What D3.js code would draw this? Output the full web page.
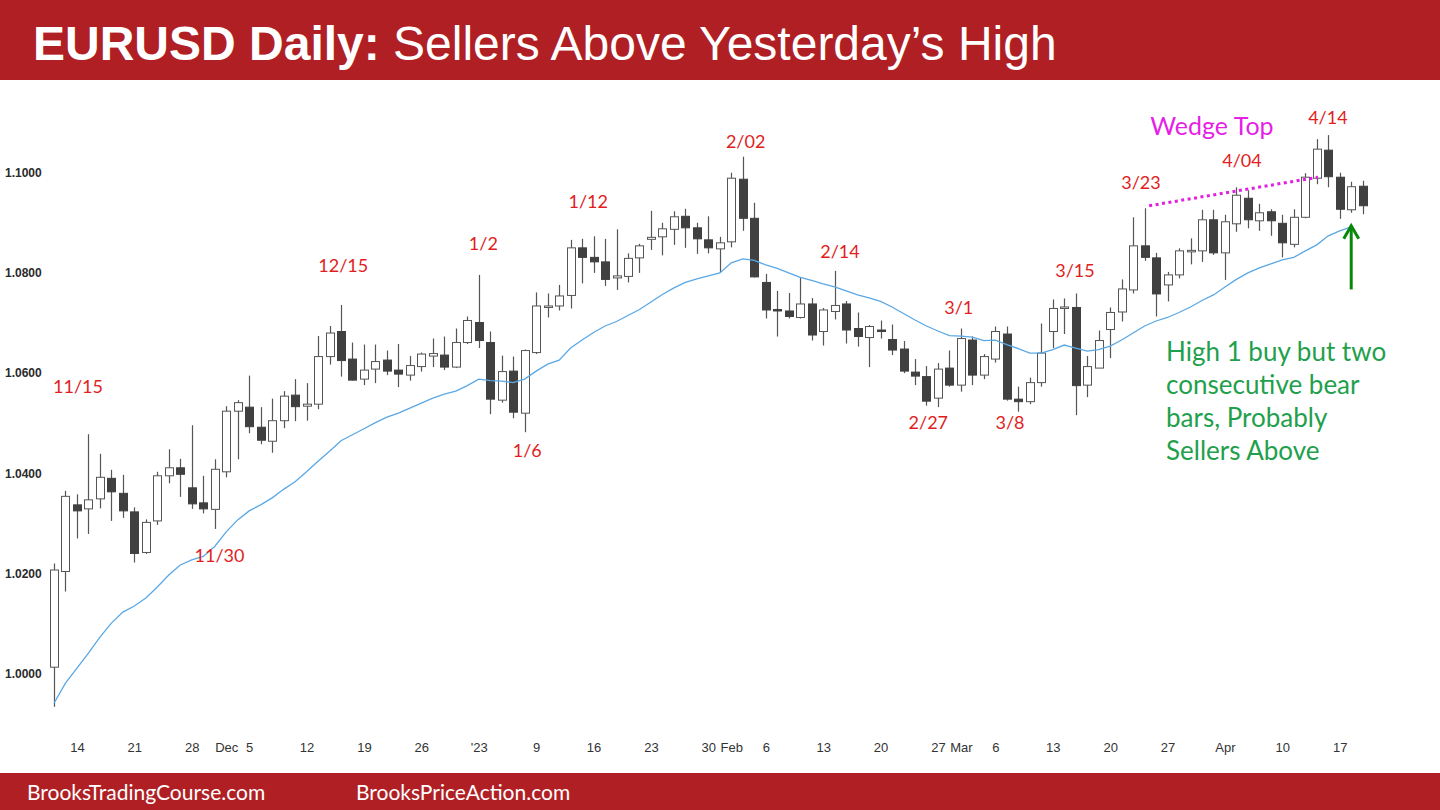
<!DOCTYPE html>
<html><head><meta charset="utf-8">
<script src="https://cdn.jsdelivr.net/npm/d3@7/dist/d3.min.js"></script>
<style>
html,body{margin:0;padding:0;background:#fff;}
svg{display:block;}
</style></head><body>
<svg id="c" width="1440" height="810"></svg>
<script>
// ---------------- DATA ----------------
const dates = [
"2022-11-10","2022-11-11","2022-11-14","2022-11-15","2022-11-16","2022-11-17","2022-11-18","2022-11-21","2022-11-22","2022-11-23","2022-11-24","2022-11-25","2022-11-28","2022-11-29","2022-11-30",
"2022-12-01","2022-12-02","2022-12-05","2022-12-06","2022-12-07","2022-12-08","2022-12-09","2022-12-12","2022-12-13","2022-12-14","2022-12-15","2022-12-16","2022-12-19","2022-12-20","2022-12-21","2022-12-22","2022-12-23","2022-12-26","2022-12-27","2022-12-28","2022-12-29","2022-12-30",
"2023-01-02","2023-01-03","2023-01-04","2023-01-05","2023-01-06","2023-01-09","2023-01-10","2023-01-11","2023-01-12","2023-01-13","2023-01-16","2023-01-17","2023-01-18","2023-01-19","2023-01-20","2023-01-23","2023-01-24","2023-01-25","2023-01-26","2023-01-27","2023-01-30","2023-01-31",
"2023-02-01","2023-02-02","2023-02-03","2023-02-06","2023-02-07","2023-02-08","2023-02-09","2023-02-10","2023-02-13","2023-02-14","2023-02-15","2023-02-16","2023-02-17","2023-02-20","2023-02-21","2023-02-22","2023-02-23","2023-02-24","2023-02-27","2023-02-28",
"2023-03-01","2023-03-02","2023-03-03","2023-03-06","2023-03-07","2023-03-08","2023-03-09","2023-03-10","2023-03-13","2023-03-14","2023-03-15","2023-03-16","2023-03-17","2023-03-20","2023-03-21","2023-03-22","2023-03-23","2023-03-24","2023-03-27","2023-03-28","2023-03-29","2023-03-30","2023-03-31",
"2023-04-03","2023-04-04","2023-04-05","2023-04-06","2023-04-07","2023-04-10","2023-04-11","2023-04-12","2023-04-13","2023-04-14","2023-04-17","2023-04-18","2023-04-19"];

const opens = [1.0013,1.0204,1.0337,1.0329,1.0349,1.0390,1.0360,1.0323,1.0242,1.0305,1.0395,1.0411,1.0371,1.0341,1.0328,
1.0403,1.0524,1.0532,1.0492,1.0464,1.0505,1.0556,1.0534,1.0538,1.0633,1.0683,1.0628,1.0588,1.0608,1.0626,1.0606,1.0596,1.0613,1.0634,1.0636,1.0612,1.0661,
1.0701,1.0661,1.0546,1.0604,1.0520,1.0641,1.0733,1.0734,1.0755,1.0850,1.0831,1.0822,1.0790,1.0793,1.0830,1.0867,1.0872,1.0887,1.0913,1.0890,1.0866,1.0848,
1.0862,1.0987,1.0909,1.0781,1.0727,1.0724,1.0711,1.0738,1.0683,1.0723,1.0738,1.0689,1.0671,1.0686,1.0667,1.0648,1.0602,1.0593,1.0550,1.0610,
1.0576,1.0666,1.0596,1.0628,1.0678,1.0548,1.0543,1.0581,1.0683,1.0731,1.0731,1.0576,1.0610,1.0687,1.0722,1.0766,1.0854,1.0830,1.0776,1.0796,1.0843,1.0844,1.0906,
1.0840,1.0898,1.0949,1.0904,1.0922,1.0899,1.0857,1.0911,1.0989,1.1045,1.0991,1.0926,1.0973];

const highs = [1.0220,1.0365,1.0358,1.0478,1.0439,1.0407,1.0397,1.0332,1.0308,1.0403,1.0448,1.0429,1.0496,1.0395,1.0428,
1.0534,1.0546,1.0595,1.0532,1.0549,1.0564,1.0588,1.0580,1.0674,1.0694,1.0736,1.0661,1.0657,1.0657,1.0645,1.0658,1.0634,1.0641,1.0669,1.0673,1.0689,1.0713,
1.0796,1.0683,1.0635,1.0633,1.0647,1.0761,1.0759,1.0776,1.0866,1.0868,1.0873,1.0868,1.0887,1.0839,1.0858,1.0924,1.0900,1.0923,1.0928,1.0900,1.0913,1.0872,
1.1000,1.1032,1.0940,1.0798,1.0764,1.0760,1.0792,1.0750,1.0730,1.0804,1.0744,1.0721,1.0696,1.0705,1.0697,1.0664,1.0628,1.0614,1.0620,1.0645,
1.0689,1.0673,1.0638,1.0693,1.0693,1.0573,1.0591,1.0699,1.0747,1.0749,1.0759,1.0634,1.0685,1.0731,1.0787,1.0911,1.0929,1.0840,1.0802,1.0849,1.0869,1.0926,1.0926,
1.0916,1.0971,1.0965,1.0938,1.0927,1.0916,1.0927,1.0999,1.1067,1.1075,1.1000,1.0982,1.0984];

const lows = [0.9934,1.0164,1.0270,1.0279,1.0330,1.0305,1.0311,1.0222,1.0239,1.0297,1.0380,1.0353,1.0329,1.0320,1.0289,
1.0392,1.0428,1.0480,1.0458,1.0441,1.0490,1.0504,1.0505,1.0528,1.0617,1.0593,1.0585,1.0576,1.0580,1.0596,1.0572,1.0585,1.0603,1.0612,1.0606,1.0610,1.0658,
1.0650,1.0518,1.0541,1.0510,1.0482,1.0638,1.0711,1.0725,1.0729,1.0779,1.0800,1.0774,1.0766,1.0781,1.0800,1.0846,1.0835,1.0856,1.0850,1.0838,1.0839,1.0801,
1.0851,1.0884,1.0791,1.0709,1.0673,1.0709,1.0709,1.0665,1.0655,1.0707,1.0659,1.0653,1.0612,1.0669,1.0636,1.0600,1.0576,1.0535,1.0532,1.0573,
1.0563,1.0576,1.0588,1.0621,1.0545,1.0523,1.0538,1.0573,1.0650,1.0678,1.0516,1.0552,1.0610,1.0630,1.0703,1.0759,1.0824,1.0713,1.0743,1.0789,1.0817,1.0822,1.0836,
1.0786,1.0882,1.0889,1.0884,1.0874,1.0831,1.0851,1.0909,1.0977,1.0971,1.0908,1.0920,1.0917];

const closes = [1.0207,1.0354,1.0325,1.0347,1.0392,1.0363,1.0325,1.0240,1.0302,1.0395,1.0411,1.0398,1.0339,1.0329,1.0408,
1.0524,1.0541,1.0493,1.0466,1.0505,1.0554,1.0533,1.0538,1.0633,1.0680,1.0625,1.0586,1.0606,1.0623,1.0604,1.0598,1.0615,1.0638,1.0639,1.0612,1.0661,1.0705,
1.0665,1.0548,1.0603,1.0522,1.0645,1.0734,1.0734,1.0754,1.0850,1.0831,1.0822,1.0787,1.0794,1.0829,1.0854,1.0871,1.0888,1.0912,1.0890,1.0868,1.0850,1.0860,
1.0989,1.0909,1.0792,1.0726,1.0725,1.0713,1.0738,1.0676,1.0726,1.0735,1.0686,1.0673,1.0693,1.0684,1.0646,1.0604,1.0594,1.0544,1.0608,1.0576,
1.0669,1.0596,1.0633,1.0683,1.0548,1.0543,1.0581,1.0640,1.0729,1.0732,1.0575,1.0613,1.0665,1.0721,1.0768,1.0854,1.0831,1.0758,1.0796,1.0844,1.0845,1.0906,1.0840,
1.0902,1.0955,1.0906,1.0920,1.0904,1.0860,1.0911,1.0991,1.1047,1.0992,1.0927,1.0972,1.0934];

// 20-period EMA as drawn (one value per bar)
const ema20 = [0.9941,0.9981,1.0011,1.0041,1.0073,1.0101,1.0123,1.0135,1.0151,1.0173,1.0197,1.0217,1.0227,1.0234,1.0254,
1.0283,1.0307,1.0325,1.0337,1.0351,1.0368,1.0383,1.0403,1.0424,1.0444,1.0465,1.0477,1.0489,1.0501,1.0512,1.0520,1.0530,1.0540,1.0550,1.0558,1.0564,1.0575,
1.0588,1.0585,1.0584,1.0581,1.0588,1.0604,1.0618,1.0626,1.0650,1.0666,1.0681,1.0694,1.0703,1.0715,1.0727,1.0742,1.0757,1.0770,1.0781,1.0788,1.0794,1.0800,
1.0820,1.0828,1.0825,1.0816,1.0809,1.0800,1.0791,1.0785,1.0778,1.0772,1.0764,1.0756,1.0750,1.0743,1.0732,1.0719,1.0706,1.0694,1.0684,1.0675,
1.0674,1.0672,1.0665,1.0666,1.0657,1.0649,1.0640,1.0640,1.0647,1.0656,1.0650,1.0644,1.0647,1.0654,1.0666,1.0680,1.0694,1.0704,1.0711,1.0721,1.0732,1.0745,1.0756,
1.0772,1.0787,1.0800,1.0810,1.0818,1.0826,1.0831,1.0844,1.0856,1.0874,1.0884,1.0892];

const yTicks = [1.0000,1.0200,1.0400,1.0600,1.0800,1.1000];

const xTickDates = ["2022-11-14","2022-11-21","2022-11-28","2022-12-01","2022-12-05","2022-12-12","2022-12-19","2022-12-26","2023-01-02","2023-01-09","2023-01-16","2023-01-23","2023-01-30","2023-02-01","2023-02-06","2023-02-13","2023-02-20","2023-02-27","2023-03-01","2023-03-06","2023-03-13","2023-03-20","2023-03-27","2023-04-03","2023-04-10","2023-04-17"];
const xTickLabels = ["14","21","28","Dec","5","12","19","26","'23","9","16","23","30","Feb","6","13","20","27","Mar","6","13","20","27","Apr","10","17"];

// swing labels: text, anchor bar position (bar index units), baseline price
const swingText  = ["11/15","11/30","12/15","1/2","1/6","1/12","2/02","2/14","2/27","3/1","3/8","3/15","3/23","4/04","4/14"];
const swingPos   = [2.09,14.42,25.2,37.4,41.23,46.54,60.25,68.47,76.16,78.81,83.28,88.94,94.69,103.48,110.97];
const swingPrice = [1.0560,1.0222,1.0802,1.0846,1.0432,1.0929,1.1049,1.0830,1.0488,1.0717,1.0488,1.0791,1.0967,1.1011,1.1097];

const wedgeLinePos = [95.4,110.1];
const wedgeLinePrice = [1.0934,1.0991];
const wedgeLabel = {text:"Wedge Top", pos:100.87, price:1.1075};

const noteLines = ["High 1 buy but two","consecutive bear","bars, Probably","Sellers Above"];
const notePos = 96.87;
const notePrices = [1.0625,1.0558,1.0492,1.0426];

const arrowPos = 113;
const arrowPrices = [1.0767,1.0896];

// ---------------- DRAW ----------------
const W = 1440, H = 810;
const svg = d3.select("#c");
svg.append("rect").attr("width", W).attr("height", H).attr("fill", "#fff");

const x = d3.scaleLinear().domain([0, dates.length - 1]).range([54, 1362.7]);
const y = d3.scaleLinear().domain([1.0, 1.1]).range([673.7, 172.7]);
const idx = d => dates.indexOf(d);

// header
svg.append("rect").attr("x", 0).attr("y", 0).attr("width", W).attr("height", 80).attr("fill", "#b01f24");
const title = svg.append("text").attr("x", 33).attr("y", 60).attr("fill", "#fff")
  .style("font-family", "'Liberation Sans', Arial, sans-serif").style("font-size", "48px");
title.append("tspan").attr("font-weight", "bold").text("EURUSD Daily:");
title.append("tspan").text(" Sellers Above Yesterday\u2019s High");

// footer
svg.append("rect").attr("x", 0).attr("y", 773).attr("width", W).attr("height", 37).attr("fill", "#b01f24");
const foot = svg.append("g").style("font-family", "Lato, 'Open Sans', sans-serif").style("font-size", "21px").attr("fill", "#fff");
foot.append("text").attr("x", 27).attr("y", 800).text("BrooksTradingCourse.com");
foot.append("text").attr("x", 356).attr("y", 800).text("BrooksPriceAction.com");

// y axis
const yAxis = d3.axisRight(y).tickValues(yTicks).tickSize(0).tickPadding(0).tickFormat(d3.format(".4f"));
const gy = svg.append("g").attr("transform", "translate(5,0)").call(yAxis);
gy.select(".domain").remove();
gy.selectAll("text").attr("fill", "#2a2a2a").style("font-family", "'Liberation Sans', Arial, sans-serif")
  .style("font-size", "12px").style("font-weight", "bold");

// x axis
const xAxis = d3.axisBottom(x).tickValues(xTickDates.map(idx)).tickSize(0).tickPadding(0)
  .tickFormat((d, i) => xTickLabels[i]);
const gx = svg.append("g").attr("transform", "translate(0,743)").call(xAxis);
gx.select(".domain").remove();
gx.selectAll("text").attr("fill", "#333").style("font-family", "'Liberation Sans', Arial, sans-serif").style("font-size", "13px");

// candles
const bars = dates.map((d, i) => ({i, o: opens[i], h: highs[i], l: lows[i], c: closes[i]}));
const cg = svg.append("g");
const bw = 8;
cg.selectAll("line.wick").data(bars).join("line").attr("class", "wick")
  .attr("x1", d => Math.round(x(d.i)) + 0.5).attr("x2", d => Math.round(x(d.i)) + 0.5)
  .attr("y1", d => y(d.h)).attr("y2", d => y(d.l))
  .attr("stroke", "#555").attr("stroke-width", 1.2);
cg.selectAll("rect.body").data(bars).join("rect").attr("class", "body")
  .attr("x", d => Math.round(x(d.i)) + 0.5 - bw / 2)
  .attr("y", d => y(Math.max(d.o, d.c)))
  .attr("width", bw)
  .attr("height", d => Math.max(1.5, Math.abs(y(d.o) - y(d.c))))
  .attr("fill", d => d.c >= d.o ? "#fff" : "#404040")
  .attr("stroke", d => d.c >= d.o ? "#555" : "#404040")
  .attr("stroke-width", 1);

// EMA line
svg.append("path").datum(ema20)
  .attr("d", d3.line().x((v, i) => x(i)).y(v => y(v)))
  .attr("fill", "none").attr("stroke", "#5aa8e6").attr("stroke-width", 1.3);

// swing labels
svg.append("g").selectAll("text").data(swingText).join("text")
  .attr("x", (t, i) => x(swingPos[i])).attr("y", (t, i) => y(swingPrice[i]))
  .attr("text-anchor", "middle").attr("fill", "#e01e1e")
  .style("font-family", "Lato, 'Open Sans', sans-serif").style("font-size", "18px")
  .text(t => t);

// wedge line + label
svg.append("line")
  .attr("x1", x(wedgeLinePos[0])).attr("y1", y(wedgeLinePrice[0]))
  .attr("x2", x(wedgeLinePos[1])).attr("y2", y(wedgeLinePrice[1]))
  .attr("stroke", "#e020e0").attr("stroke-width", 3).attr("stroke-dasharray", "3,3.5");
svg.append("text").attr("x", x(wedgeLabel.pos)).attr("y", y(wedgeLabel.price))
  .attr("text-anchor", "middle").attr("fill", "#e51fe5")
  .style("font-family", "Lato, 'Open Sans', sans-serif").style("font-size", "25px")
  .text(wedgeLabel.text);

// note
svg.append("g").selectAll("text").data(noteLines).join("text")
  .attr("x", x(notePos)).attr("y", (t, i) => y(notePrices[i]))
  .attr("fill", "#1fa04c")
  .style("font-family", "Lato, 'Open Sans', sans-serif").style("font-size", "26px")
  .text(t => t);

// arrow
const ax = x(arrowPos), ay0 = y(arrowPrices[0]), ay1 = y(arrowPrices[1]);
svg.append("line").attr("x1", ax).attr("x2", ax).attr("y1", ay0).attr("y2", ay1 + 1)
  .attr("stroke", "#0a870a").attr("stroke-width", 3);
svg.append("path").attr("d", `M${ax - 7.5},${ay1 + 14} L${ax},${ay1 + 1} L${ax + 7.5},${ay1 + 14}`)
  .attr("fill", "none").attr("stroke", "#0a870a").attr("stroke-width", 3);
</script>
</body></html>
